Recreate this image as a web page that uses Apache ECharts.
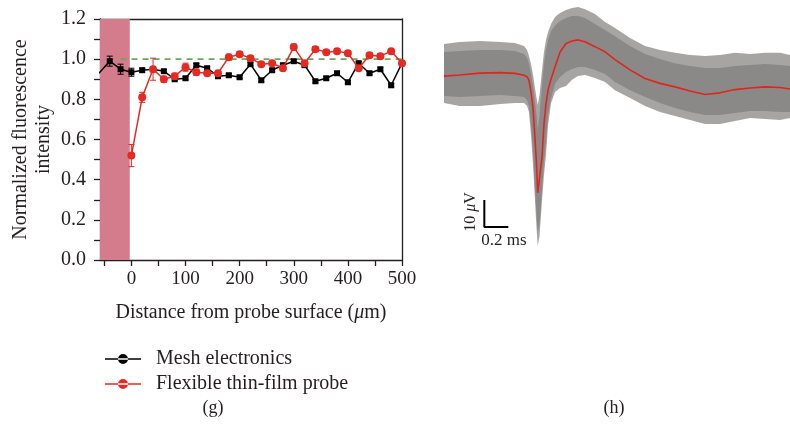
<!DOCTYPE html>
<html>
<head>
<meta charset="utf-8">
<script src="https://cdn.jsdelivr.net/npm/echarts@6/dist/echarts.min.js"></script>
<style>
  html, body { margin: 0; padding: 0; background: #fff; }
  #chart { width: 790px; height: 434px; }
</style>
</head>
<body>
<div id="chart"></div>
<script>
// ---- Panel (g): fluorescence intensity vs distance from probe surface ----
const meshDistances = [-60, -40, -20, 0, 20, 40, 60, 80, 100, 120, 140, 160, 180, 200, 220, 240,
  260, 280, 300, 320, 340, 360, 380, 400, 420, 440, 460, 480, 500];
const meshValues = [0.93, 0.99, 0.95, 0.935, 0.945, 0.95, 0.94, 0.90, 0.905, 0.97, 0.955, 0.915, 0.92, 0.91, 0.975, 0.895,
  0.945, 0.97, 0.99, 0.97, 0.89, 0.905, 0.93, 0.885, 0.98, 0.93, 0.95, 0.87, 0.98];
const meshErrors = [0, 0.025, 0.025, 0.02, 0.01, 0.008, 0.008, 0.008, 0.008, 0.008, 0.008, 0.008, 0.008, 0.008, 0.008, 0.008,
  0.008, 0.008, 0.008, 0.008, 0.008, 0.008, 0.008, 0.008, 0.008, 0.008, 0.008, 0.008, 0.008];

const probeDistances = [0, 20, 40, 60, 80, 100, 120, 140, 160, 180, 200, 220, 240,
  260, 280, 300, 320, 340, 360, 380, 400, 420, 440, 460, 480, 500];
const probeValues = [0.52, 0.81, 0.95, 0.90, 0.915, 0.96, 0.935, 0.93, 0.93, 1.01, 1.025, 1.005, 0.975,
  0.98, 0.955, 1.06, 0.98, 1.05, 1.035, 1.04, 1.03, 0.955, 1.02, 1.015, 1.04, 0.98];
const probeErrors = [0.055, 0.025, 0.055, 0.015, 0.015, 0.02, 0.015, 0.012, 0.012, 0.015, 0.012, 0.012, 0.012,
  0.012, 0.012, 0.015, 0.012, 0.012, 0.012, 0.012, 0.012, 0.012, 0.012, 0.012, 0.012, 0.012];

const baselineSpan = [-20, 500];      // dashed reference at normalized level 1.0
const baselineLevel = 1.0;
const probeRegion = [-58, -3];        // shaded probe footprint
const xTickValues = [-50, 0, 50, 100, 150, 200, 250, 300, 350, 400, 450, 500];
const xLabelValues = [0, 100, 200, 300, 400, 500];

// ---- Panel (h): overlaid spike waveforms (time in ms, amplitude in µV) ----
const waveTime = [0, 0.13, 0.3, 0.47, 0.59,
  0.667, 0.692, 0.708, 0.725, 0.742, 0.758, 0.771, 0.781, 0.796, 0.817, 0.833, 0.85, 0.867, 0.892, 0.925,
  0.967, 1.017, 1.067, 1.117, 1.175, 1.258, 1.342, 1.425, 1.55, 1.675, 1.8, 1.925, 2.05, 2.175, 2.3,
  2.425, 2.55, 2.675, 2.8, 2.883];
const waveMean = [-0.7, -0.3, 0.4, 0.6, 0.3,
  -0.4, -1.0, -2.2, -6.6, -12.5, -23.6, -33.6, -44.0, -38.4, -30.6, -18.4, -11.0, -5.9, -1.8, 2.7,
  8.2, 11.4, 12.3, 12.7, 12.0, 10.2, 8.3, 5.4, 1.6, -1.6, -3.4, -4.7, -6.2, -7.5, -6.9,
  -5.7, -5.1, -4.7, -4.9, -5.5];
const outerUpper = [11.2, 11.9, 12.3, 11.9, 11.6,
  10.4, 9.0, 6.7, 3.8, -0.3, -5.1, -8.8, -11.4, -7.7, 1.6, 8.2, 12.7, 15.6, 18.6, 21.2,
  22.7, 23.8, 24.5, 24.9, 24.1, 22.3, 19.3, 17.1, 13.4, 10.4, 9.0, 7.9, 7.1, 6.7, 7.1,
  7.9, 7.5, 7.9, 7.9, 7.1];
const outerLower = [-10.7, -11.8, -11.8, -11.0, -10.7,
  -10.7, -11.8, -14.0, -22.5, -33.6, -46.6, -57.0, -63.6, -59.9, -46.6, -37.3, -29.9, -18.8, -10.7, -6.6,
  -5.1, -4.4, -2.1, -0.7, -0.3, -1.4, -2.9, -5.9, -8.8, -11.8, -14.0, -15.5, -17.0, -18.4, -18.4,
  -17.3, -16.2, -16.6, -17.0, -16.2];
const coreUpper = [8.2, 8.6, 9.0, 9.0, 8.6,
  7.5, 6.0, 3.8, 0.1, -4.4, -10.3, -15.1, -20.7, -15.1, -4.0, 3.8, 9.0, 12.7, 16.0, 17.9,
  19.7, 20.8, 21.6, 21.6, 20.8, 18.6, 16.4, 14.1, 10.4, 7.5, 5.6, 4.1, 3.0, 2.3, 2.3,
  3.0, 3.4, 3.8, 3.4, 3.0];
const coreLower = [-8.1, -8.4, -8.1, -7.7, -8.1,
  -8.4, -9.6, -11.8, -18.8, -28.8, -42.1, -51.8, -58.4, -55.5, -42.9, -32.5, -25.1, -15.1, -8.8, -3.6,
  -1.0, 0.8, 1.9, 2.7, 2.7, 1.6, 0.1, -2.9, -5.9, -8.4, -10.7, -12.5, -14.0, -15.1, -15.1,
  -14.4, -13.6, -13.6, -14.0, -14.0];
// scale bar: 0.2 ms horizontally, 10 µV vertically
const scaleBarOrigin = [0.336, -56.6];
const scaleBarTime = 0.2;
const scaleBarVolt = 10;

const SERIF = '"Liberation Serif", "Times New Roman", serif';
const INK = '#231f20';
const RED = '#e42a22';
const legendPath = 'path://M0,4.3L36,4.3L36,5.7L0,5.7Z M13,5A5,5,0,1,0,23,5A5,5,0,1,0,13,5Z';

function errorBars(xs, ys, errs, color, z) {
  return {
    type: 'custom', xAxisIndex: 0, yAxisIndex: 0, z: z, silent: true,
    data: xs.map((x, i) => [x, ys[i] - errs[i], ys[i] + errs[i]]),
    encode: { x: 0, y: [1, 2] },
    renderItem: function (params, api) {
      if (api.value(1) === api.value(2)) return null;
      const lo = api.coord([api.value(0), api.value(1)]);
      const hi = api.coord([api.value(0), api.value(2)]);
      const w = 3;
      const st = { stroke: color, lineWidth: 1 };
      return {
        type: 'group', children: [
          { type: 'line', shape: { x1: lo[0], y1: lo[1], x2: hi[0], y2: hi[1] }, style: st },
          { type: 'line', shape: { x1: lo[0] - w, y1: lo[1], x2: lo[0] + w, y2: lo[1] }, style: st },
          { type: 'line', shape: { x1: hi[0] - w, y1: hi[1], x2: hi[0] + w, y2: hi[1] }, style: st }
        ]
      };
    }
  };
}

// grey envelope of the overlaid traces, drawn as a closed polygon in data space
function waveBand(upper, lower, color, z) {
  return {
    type: 'custom', xAxisIndex: 2, yAxisIndex: 1, z: z, silent: true,
    data: [[waveTime[0], lower[0]]],
    renderItem: function (params, api) {
      const pts = [];
      for (let i = 0; i < waveTime.length; i++) pts.push(api.coord([waveTime[i], upper[i]]));
      for (let i = waveTime.length - 1; i >= 0; i--) pts.push(api.coord([waveTime[i], lower[i]]));
      return { type: 'polygon', shape: { points: pts }, style: { fill: color } };
    }
  };
}

const chart = echarts.init(document.getElementById('chart'), null, { renderer: 'canvas' });

const axisLineStyle = { color: INK, width: 1.3 };

chart.setOption({
  animation: false,
  backgroundColor: '#ffffff',
  textStyle: { fontFamily: SERIF, color: INK },
  grid: [
    { left: 100, top: 19, width: 302, height: 241 },
    { left: 444, top: 4, width: 346, height: 243 }
  ],
  xAxis: [
    {
      gridIndex: 0, type: 'value', min: probeRegion[0], max: 500,
      axisLine: { show: true, onZero: false, lineStyle: axisLineStyle },
      axisTick: { show: true, length: 6, customValues: xTickValues, lineStyle: axisLineStyle },
      axisLabel: { customValues: xLabelValues, margin: 10, fontSize: 19, fontFamily: SERIF, color: INK },
      splitLine: { show: false },
      name: 'Distance from probe surface ({i|μ}m)',
      nameLocation: 'middle', nameGap: 43,
      nameTextStyle: {
        fontSize: 20, fontFamily: SERIF, color: INK,
        rich: { i: { fontStyle: 'italic', fontSize: 20, fontFamily: SERIF, color: INK } }
      }
    },
    {
      gridIndex: 0, type: 'value', position: 'top', min: probeRegion[0], max: 500,
      axisLine: { show: true, onZero: false, lineStyle: axisLineStyle },
      axisTick: { show: false }, axisLabel: { show: false }, splitLine: { show: false }
    },
    {
      gridIndex: 1, type: 'value', min: 0, max: 2.883, show: false
    }
  ],
  yAxis: [
    {
      gridIndex: 0, type: 'value', min: 0, max: 1.2, interval: 0.2,
      axisLine: { show: true, onZero: false, lineStyle: axisLineStyle },
      axisTick: { show: true, length: 6, lineStyle: axisLineStyle },
      minorTick: { show: true, splitNumber: 2, length: 6, lineStyle: axisLineStyle },
      axisLabel: { formatter: v => v.toFixed(1), margin: 14, fontSize: 20, fontFamily: SERIF, color: INK },
      splitLine: { show: false },
      name: 'Normalized fluorescence\nintensity',
      nameLocation: 'middle', nameGap: 45, nameRotate: 90,
      nameTextStyle: { fontSize: 20, lineHeight: 23, fontFamily: SERIF, color: INK, align: 'center' }
    },
    {
      gridIndex: 1, type: 'value', min: -64, max: 26, show: false
    },
    {
      gridIndex: 0, type: 'value', position: 'right', min: 0, max: 1.2,
      axisLine: { show: true, onZero: false, lineStyle: axisLineStyle },
      axisTick: { show: false }, axisLabel: { show: false }, splitLine: { show: false }
    }
  ],
  legend: {
    orient: 'vertical', left: 100, top: 344, itemWidth: 36, itemHeight: 10, itemGap: 5,
    selectedMode: false,
    textStyle: { fontSize: 20, fontFamily: SERIF, color: INK, padding: [0, 0, 0, 10] },
    data: [
      { name: 'Mesh electronics', icon: legendPath },
      { name: 'Flexible thin-film probe', icon: legendPath }
    ]
  },
  graphic: [
    { type: 'text', x: 213, y: 408, style: { text: '(g)', font: '18px ' + SERIF, fill: INK, textAlign: 'center', textVerticalAlign: 'middle' } },
    { type: 'text', x: 614, y: 408, style: { text: '(h)', font: '18px ' + SERIF, fill: INK, textAlign: 'center', textVerticalAlign: 'middle' } },
    {
      type: 'text', x: 471, y: 212, rotation: Math.PI / 2,
      style: {
        text: '10 {i|μ}V', font: '16px ' + SERIF, fill: INK, textAlign: 'center', textVerticalAlign: 'middle',
        rich: { i: { fontStyle: 'italic', fontSize: 16, fontFamily: SERIF, fill: INK } }
      }
    },
    { type: 'text', x: 504, y: 241, style: { text: '0.2 ms', font: '17px ' + SERIF, fill: INK, textAlign: 'center', textVerticalAlign: 'middle' } }
  ],
  series: [
    {
      name: 'probe region', type: 'line', xAxisIndex: 0, yAxisIndex: 0, data: [], silent: true, z: 0,
      markArea: {
        silent: true, itemStyle: { color: '#d47b8c' },
        data: [[{ xAxis: probeRegion[0] }, { xAxis: probeRegion[1] }]]
      }
    },
    {
      name: 'baseline', type: 'line', xAxisIndex: 0, yAxisIndex: 0, silent: true, symbol: 'none', z: 2,
      data: baselineSpan.map(x => [x, baselineLevel]),
      lineStyle: { color: '#6aa85a', width: 1.6, type: [6, 5] }
    },
    errorBars(meshDistances, meshValues, meshErrors, '#000000', 3),
    {
      name: 'Mesh electronics', type: 'line', xAxisIndex: 0, yAxisIndex: 0, z: 3,
      // the first sample lies just left of the axis range; only its connecting segment shows
      data: meshDistances.map((x, i) => (x < probeRegion[0]
        ? { value: [x, meshValues[i]], symbol: 'none' }
        : [x, meshValues[i]])),
      symbol: 'rect', symbolSize: 6,
      itemStyle: { color: '#000000' },
      lineStyle: { color: '#000000', width: 1.5 }
    },
    errorBars(probeDistances, probeValues, probeErrors, RED, 4),
    {
      name: 'Flexible thin-film probe', type: 'line', xAxisIndex: 0, yAxisIndex: 0, z: 4,
      data: probeDistances.map((x, i) => [x, probeValues[i]]),
      symbol: 'circle', symbolSize: 8,
      itemStyle: { color: RED },
      lineStyle: { color: RED, width: 1.5 }
    },
    waveBand(outerUpper, outerLower, '#a7a5a4', 1),
    waveBand(coreUpper, coreLower, '#8b8988', 2),
    {
      name: 'mean waveform', type: 'line', xAxisIndex: 2, yAxisIndex: 1, z: 5, silent: true,
      symbol: 'none', data: waveTime.map((t, i) => [t, waveMean[i]]),
      lineStyle: { color: '#e3241b', width: 1.6 }
    },
    {
      name: 'scale bar', type: 'line', xAxisIndex: 2, yAxisIndex: 1, z: 5, silent: true, symbol: 'none',
      data: [
        [scaleBarOrigin[0], scaleBarOrigin[1] + scaleBarVolt],
        [scaleBarOrigin[0], scaleBarOrigin[1]],
        [scaleBarOrigin[0] + scaleBarTime, scaleBarOrigin[1]]
      ],
      lineStyle: { color: '#000000', width: 2 }
    }
  ]
});
</script>
</body>
</html>
